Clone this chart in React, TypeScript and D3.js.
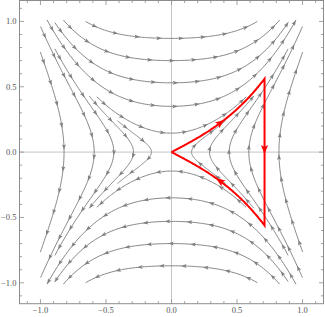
import React from 'react';
import * as d3 from 'd3';

const width = 325;
const height = 317;

// saddle field F = (y, V'(x)), V(x) = a x^2 + b x^4 + c x^6 (fitted to the picture)
const potentialCoeffs = [0.1386, 0.2768, 0.135];

// streamlines crossing the y axis: vertex height and half width
const topVertices = [0.87, 0.7, 0.53, 0.35, 0.145];
const topHalfWidths = [0.655, 0.825, 0.89, 0.95, 0.57];

// streamlines crossing the x axis: vertex position and half height
const sideVertices = [0.82, 0.59, 0.44, 0.29, 0.153];
const sideHalfHeights = [0.765, 0.96, 0.79, 0.43, 0.24];

// red closed path: origin -> corner along the separatrix, down, back to origin
const cornerX = 0.71;

const tickLabels = [-1, -0.5, 0, 0.5, 1];

function V(x: number) {
  const x2 = x * x;
  return potentialCoeffs[0] * x2 + potentialCoeffs[1] * x2 * x2 + potentialCoeffs[2] * x2 * x2 * x2;
}

function Vinv(v: number) {
  let lo = 0, hi = 3;
  for (let i = 0; i < 50; i++) {
    const m = (lo + hi) / 2;
    if (V(m) < v) lo = m; else hi = m;
  }
  return (lo + hi) / 2;
}

type Pt = [number, number];

function arrowsAlong(px: Pt[], spacing: number, offset: number) {
  const out: { x: number; y: number; a: number }[] = [];
  let acc = 0;
  let next = offset;
  for (let i = 1; i < px.length; i++) {
    const [x0, y0] = px[i - 1];
    const [x1, y1] = px[i];
    const seg = Math.hypot(x1 - x0, y1 - y0);
    while (seg > 0 && next <= acc + seg) {
      const t = (next - acc) / seg;
      out.push({ x: x0 + (x1 - x0) * t, y: y0 + (y1 - y0) * t, a: Math.atan2(y1 - y0, x1 - x0) * 180 / Math.PI });
      next += spacing;
    }
    acc += seg;
  }
  return out;
}

function pointAt(px: Pt[], frac: number) {
  const lens = [0];
  for (let i = 1; i < px.length; i++) lens.push(lens[i - 1] + Math.hypot(px[i][0] - px[i - 1][0], px[i][1] - px[i - 1][1]));
  const total = lens[lens.length - 1];
  return arrowsAlong(px, total * 10, total * frac)[0];
}

export default function App() {
  const x = d3.scaleLinear().domain([-1.16, 1.16]).range([19.5, 323.5]);
  const y = d3.scaleLinear().domain([-1.16, 1.16]).range([303.7, 0.5]);
  const toPx = (d: Pt): Pt => [x(d[0]), y(d[1])];
  const line = d3.line<Pt>().x(d => d[0]).y(d => d[1]);
  const N = 120;

  const streams: Pt[][] = [];
  topVertices.forEach((y0, i) => {
    const w = topHalfWidths[i];
    [1, -1].forEach(s => {
      let pts: Pt[] = d3.range(N + 1).map(k => {
        const xv = -w + (2 * w * k) / N;
        return [xv, s * Math.sqrt(y0 * y0 + 2 * V(xv))] as Pt;
      });
      if (s < 0) pts = pts.reverse();
      streams.push(pts.map(toPx));
    });
  });
  sideVertices.forEach((x0, i) => {
    const h = sideHalfHeights[i];
    [1, -1].forEach(s => {
      let pts: Pt[] = d3.range(N + 1).map(k => {
        const yv = -h + (2 * h * k) / N;
        return [s * Vinv(V(x0) + yv * yv / 2), yv] as Pt;
      });
      if (s < 0) pts = pts.reverse();
      streams.push(pts.map(toPx));
    });
  });

  const cornerY = Math.sqrt(2 * V(cornerX));
  const topEdge: Pt[] = d3.range(N + 1).map(k => {
    const xv = (cornerX * k) / N;
    return toPx([xv, Math.sqrt(2 * V(xv))]);
  });
  const rightEdge: Pt[] = [toPx([cornerX, cornerY]), toPx([cornerX, -cornerY])];
  const bottomEdge: Pt[] = d3.range(N + 1).map(k => {
    const xv = cornerX - (cornerX * k) / N;
    return toPx([xv, -Math.sqrt(2 * V(xv))]);
  });
  const redPath = [...topEdge, ...rightEdge, ...bottomEdge];
  const redArrows = [pointAt(topEdge, 0.5), pointAt(rightEdge, 0.5), pointAt(bottomEdge, 0.55)];

  const ticks = x.ticks(20);
  const fmt = d3.format('.1f');
  const frameColor = '#8c8c8c';
  const streamColor = '#808080';
  const [l, r] = x.range();
  const [b, t] = y.range();

  return (
    <svg width={width} height={height} style={{ position: 'absolute', left: 0, top: 0 }}>
      <line x1={x(0)} x2={x(0)} y1={t} y2={b} stroke="#c4c4c4" strokeWidth={1} />
      <line x1={l} x2={r} y1={y(0)} y2={y(0)} stroke="#c4c4c4" strokeWidth={1} />

      {streams.map((s, i) => (
        <g key={i}>
          <path d={line(s) || ''} fill="none" stroke={streamColor} strokeWidth={0.95} />
          {arrowsAlong(s, 22, 12).map((a, j) => (
            <path key={j} d="M1,0L-4.5,-2L-3.4,0L-4.5,2Z" fill={streamColor}
              transform={`translate(${a.x},${a.y}) rotate(${a.a})`} />
          ))}
        </g>
      ))}

      <path d={line(redPath) || ''} fill="none" stroke="#ff0000" strokeWidth={2} strokeLinejoin="miter" />
      {redArrows.map((a, i) => (
        <path key={i} d="M2,0L-7,-3.6L-5,0L-7,3.6Z" fill="#ff0000"
          transform={`translate(${a.x},${a.y}) rotate(${a.a})`} />
      ))}

      <rect x={l} y={t} width={r - l} height={b - t} fill="none" stroke={frameColor} strokeWidth={1} />
      {ticks.map(v => {
        const major = tickLabels.some(m => Math.abs(m - v) < 1e-9);
        const len = major ? 4.5 : 2.6;
        return (
          <g key={v} stroke={frameColor} strokeWidth={0.8}>
            <line x1={x(v)} x2={x(v)} y1={b} y2={b - len} />
            <line x1={x(v)} x2={x(v)} y1={t} y2={t + len} />
            <line x1={l} x2={l + len} y1={y(v)} y2={y(v)} />
            <line x1={r} x2={r - len} y1={y(v)} y2={y(v)} />
          </g>
        );
      })}
      {tickLabels.map(v => (
        <g key={v} fontFamily="'Liberation Serif', 'DejaVu Serif', serif" fontSize={8.5} fill="#555">
          <text x={x(v)} y={312.5} textAnchor="middle">{fmt(v)}</text>
          <text x={16.5} y={y(v) + 3} textAnchor="end">{fmt(v)}</text>
        </g>
      ))}
    </svg>
  );
}
